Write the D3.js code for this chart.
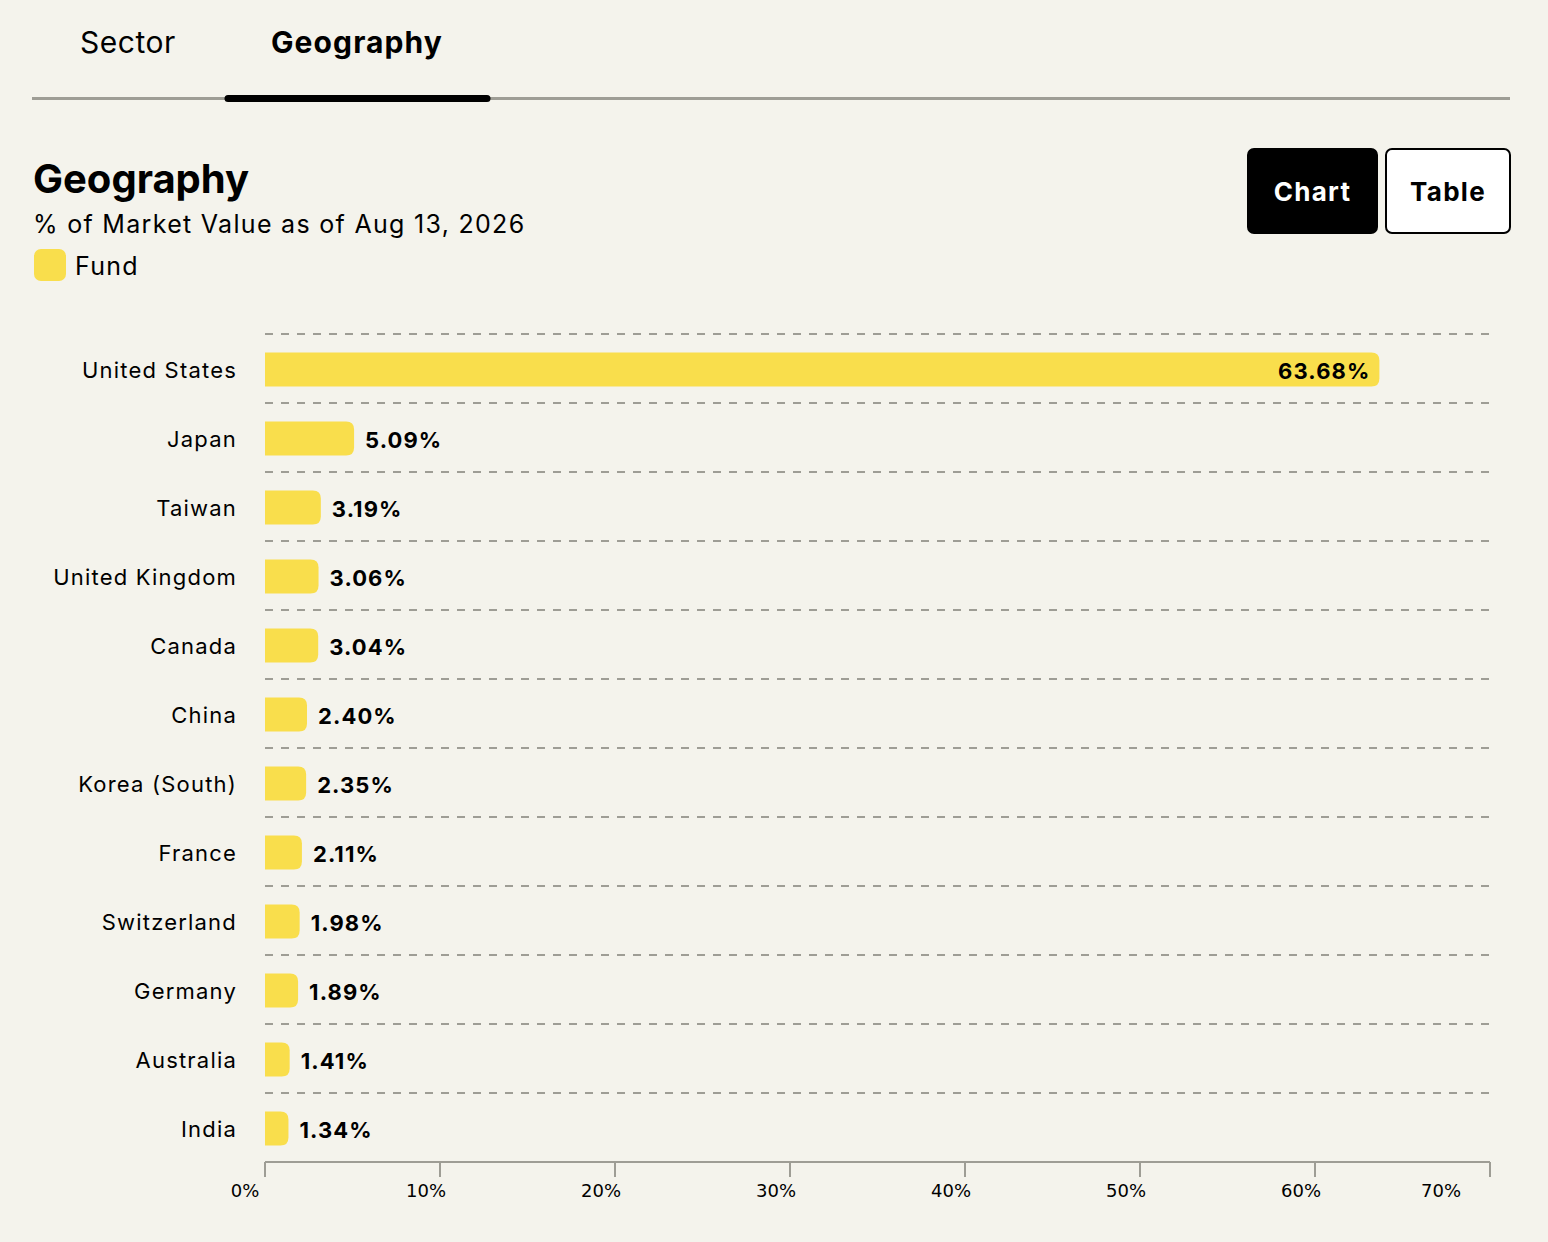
<!DOCTYPE html>
<html>
<head>
<meta charset="utf-8">
<script src="https://cdn.jsdelivr.net/npm/d3@7"></script>
<style>
  html, body { margin: 0; padding: 0; background: #f4f3ec; }
  svg { display: block; font-family: Inter, "Open Sans", sans-serif; }
</style>
</head>
<body>
<div id="chart"></div>
<script>
// Geography breakdown, % of market value
const countries = [
  "United States", "Japan", "Taiwan", "United Kingdom", "Canada", "China",
  "Korea (South)", "France", "Switzerland", "Germany", "Australia", "India"
];
const fundValues = [63.68, 5.09, 3.19, 3.06, 3.04, 2.40, 2.35, 2.11, 1.98, 1.89, 1.41, 1.34];
const tickValues = [0, 10, 20, 30, 40, 50, 60, 70];
const tabs = ["Sector", "Geography"];
const toggles = ["Chart", "Table"];

const W = 1548, H = 1242;
const YELLOW = "#f9de4c";
const GRID = "#9e9d95";

const svg = d3.select("#chart").append("svg")
  .attr("width", W).attr("height", H)
  .attr("viewBox", `0 0 ${W} ${H}`);

svg.append("rect").attr("width", W).attr("height", H).attr("fill", "#f4f3ec");

// --- tabs
const tabX = [80, 271];
svg.selectAll("text.tab").data(tabs).enter().append("text")
  .attr("class", "tab")
  .attr("x", (d, i) => tabX[i]).attr("y", 53)
  .attr("font-size", 30)
  .attr("letter-spacing", (d, i) => i === 1 ? 1.1 : 0.5)
  .attr("font-weight", (d, i) => i === 1 ? 700 : 400)
  .attr("fill", "#000")
  .text((d) => d);
svg.append("line")
  .attr("x1", 32).attr("x2", 1510).attr("y1", 98.5).attr("y2", 98.5)
  .attr("stroke", GRID).attr("stroke-width", 3);
svg.append("line")
  .attr("x1", 228).attr("x2", 487).attr("y1", 98.5).attr("y2", 98.5)
  .attr("stroke", "#000").attr("stroke-width", 7).attr("stroke-linecap", "round");

// --- heading
svg.append("text").attr("x", 33).attr("y", 193)
  .attr("font-size", 40).attr("font-weight", 700).text("Geography");
svg.append("text").attr("x", 33).attr("y", 233)
  .attr("font-size", 25).attr("letter-spacing", 1.3)
  .text("% of Market Value as of Aug 13, 2026");
svg.append("rect").attr("x", 34).attr("y", 249).attr("width", 32).attr("height", 32)
  .attr("rx", 7).attr("fill", YELLOW);
svg.append("text").attr("x", 75).attr("y", 275)
  .attr("font-size", 25).attr("letter-spacing", 1.3).text("Fund");

// --- chart/table toggle
const btn = svg.selectAll("g.btn").data(toggles).enter().append("g")
  .attr("class", "btn")
  .attr("transform", (d, i) => `translate(${i === 0 ? 1248 : 1386}, 149)`);
btn.append("rect")
  .attr("width", (d, i) => i === 0 ? 129 : 124).attr("height", 84).attr("rx", 6)
  .attr("fill", (d, i) => i === 0 ? "#000" : "#fff")
  .attr("stroke", "#000").attr("stroke-width", 2);
btn.append("text")
  .attr("x", (d, i) => (i === 0 ? 129 : 124) / 2).attr("y", 52)
  .attr("text-anchor", "middle")
  .attr("font-size", 26).attr("font-weight", 700).attr("letter-spacing", 1.3)
  .attr("fill", (d, i) => i === 0 ? "#fff" : "#000")
  .text((d) => d);

// --- bars
const x = d3.scaleLinear().domain([0, 70]).range([265, 1490]);
const y = d3.scaleBand().domain(countries).range([334, 1162]);
const barH = 34;
const r = 8;

const rows = countries.map((c, i) => ({ c, v: fundValues[i] }));

// dashed separators at top of each row
svg.append("g").selectAll("line").data(countries).enter().append("line")
  .attr("x1", x(0)).attr("x2", x(70))
  .attr("y1", (d) => y(d)).attr("y2", (d) => y(d))
  .attr("stroke", GRID).attr("stroke-width", 2)
  .attr("stroke-dasharray", "8,8");

// bar with rounded right end only
function barPath(d) {
  const x0 = x(0), x1 = x(d.v);
  const y0 = y(d.c) + (y.bandwidth() - barH) / 2 + 1, y1 = y0 + barH;
  return `M${x0},${y0} H${x1 - r} Q${x1},${y0} ${x1},${y0 + r} V${y1 - r} Q${x1},${y1} ${x1 - r},${y1} H${x0} Z`;
}
svg.append("g").selectAll("path").data(rows).enter().append("path")
  .attr("d", barPath).attr("fill", YELLOW);

// category labels
svg.append("g").selectAll("text").data(rows).enter().append("text")
  .attr("x", 237).attr("y", (d) => y(d.c) + y.bandwidth() / 2 + 9)
  .attr("text-anchor", "end").attr("font-size", 22).attr("letter-spacing", 1.2)
  .text((d) => d.c);

// value labels
const inside = (d) => x(d.v) - x(0) > 200;
svg.append("g").selectAll("text").data(rows).enter().append("text")
  .attr("x", (d) => inside(d) ? x(d.v) - 9 : x(d.v) + 11)
  .attr("y", (d) => y(d.c) + y.bandwidth() / 2 + 10)
  .attr("text-anchor", (d) => inside(d) ? "end" : "start")
  .attr("font-size", 22).attr("font-weight", 700).attr("letter-spacing", 1.1)
  .text((d) => d.v.toFixed(2) + "%");

// --- x axis
const axisY = 1162;
const axis = svg.append("g").attr("font-family", "'DejaVu Sans', sans-serif");
axis.append("line")
  .attr("x1", x(0)).attr("x2", x(70)).attr("y1", axisY).attr("y2", axisY)
  .attr("stroke", GRID).attr("stroke-width", 2);
axis.selectAll("line.tick").data(tickValues).enter().append("line")
  .attr("class", "tick")
  .attr("x1", (d) => x(d)).attr("x2", (d) => x(d))
  .attr("y1", axisY).attr("y2", axisY + 15)
  .attr("stroke", GRID).attr("stroke-width", 2);
const labelShift = (d, i) => i === 0 ? -20 : (i === tickValues.length - 1 ? -49 : -14);
axis.selectAll("text.tick").data(tickValues).enter().append("text")
  .attr("class", "tick")
  .attr("x", (d, i) => x(d) + labelShift(d, i)).attr("y", axisY + 35)
  .attr("text-anchor", "middle").attr("font-size", 18).attr("fill", "#000")
  .text((d) => d + "%");
</script>
</body>
</html>
